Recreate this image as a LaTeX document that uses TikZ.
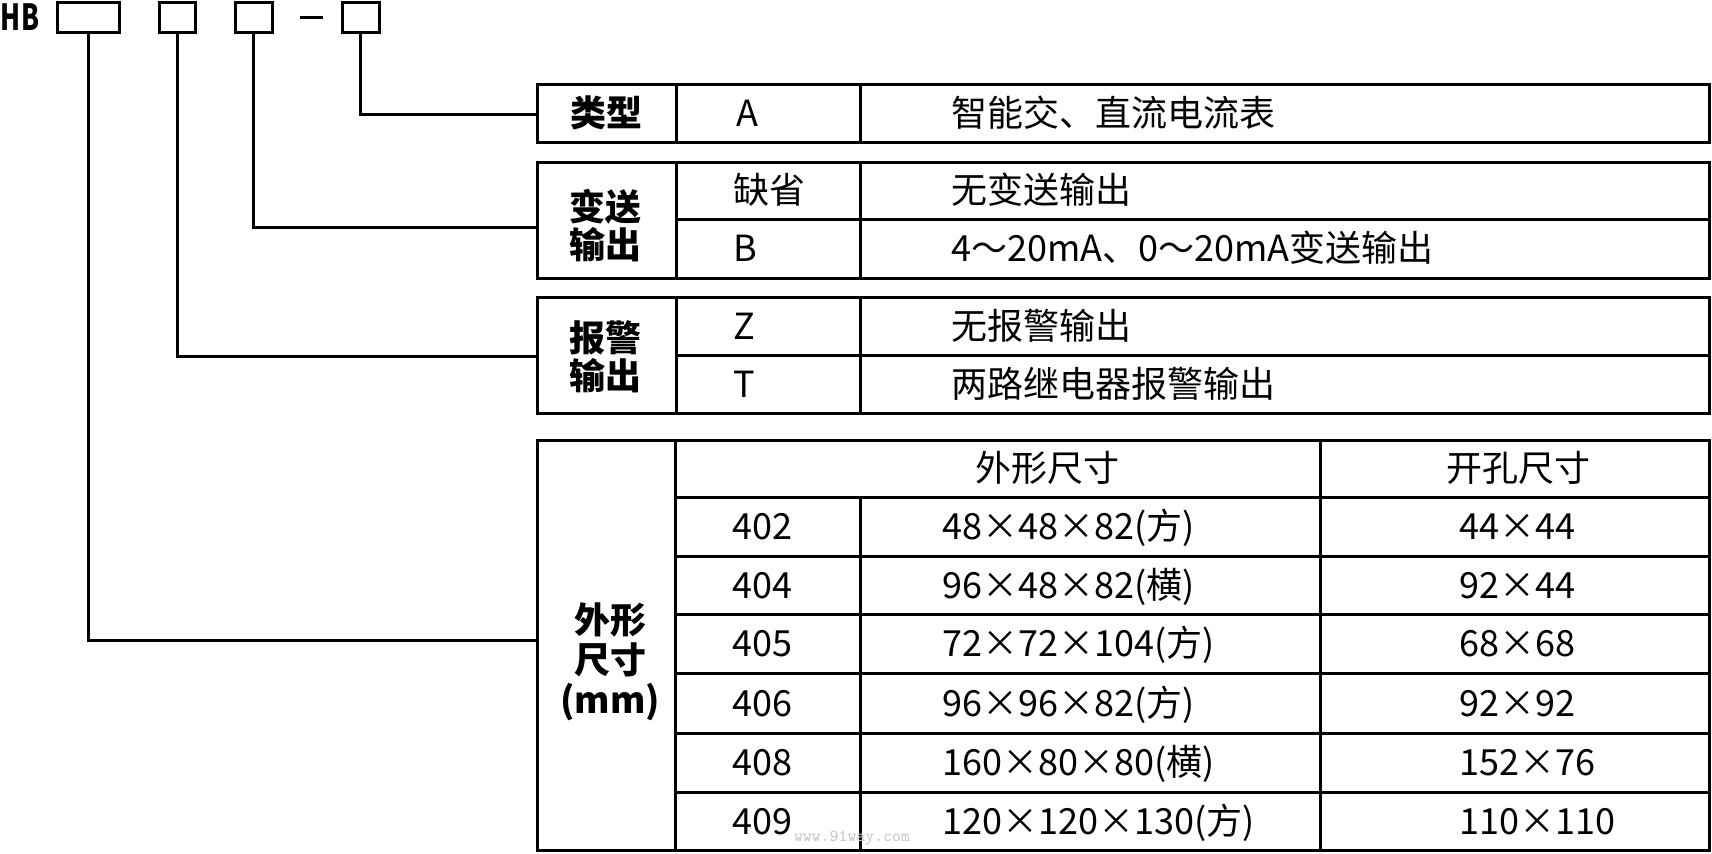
\documentclass[tikz,border=0pt]{standalone}
\usepackage{fontspec}
\setmainfont{Noto Sans CJK SC}

\begin{document}
\begin{tikzpicture}[x=0.5pt,y=-0.5pt,line width=1.5pt,
    codebox/.style={draw,inner sep=0pt,minimum height=15pt},
    txt/.style={anchor=west,inner sep=0pt,text height=16.4pt,text depth=3pt,font=\fontsize{18}{19}\selectfont},
    mid/.style={txt,anchor=center},
    lab/.style={align=center,inner sep=0pt,font=\fontsize{18}{19}\selectfont\bfseries}]
\useasboundingbox (0,0) rectangle (1712,853);
% model code
\node[font=\fontsize{18}{18}\selectfont\bfseries] (hb) at (20,17) {\scalebox{0.72}[1]{HB}};
\node[codebox,minimum width=31pt] (b1) at (88,17) {};
\node[codebox,minimum width=18pt] (b2) at (177,17) {};
\node[codebox,minimum width=18.5pt] (b3) at (253.5,17) {};
\draw (300,17) -- (323,17);
\node[codebox,minimum width=18.5pt] (b4) at (360.5,17) {};
% type
\draw (537,84) rectangle (1709,142);
\draw (676,84) -- (676,142) (860,84) -- (860,142);
\node[lab] (typ) at (606,113) {类型};
\node[txt] (typa) at (735,113) {A};
\node[txt] (typad) at (950,113) {智能交、直流电流表};
% transmit output
\draw (537,162) rectangle (1709,278);
\draw (676,162) -- (676,278) (860,162) -- (860,278) (676,219) -- (1709,219);
\node[lab] (out) at (605,226) {变送\\输出};
\node[txt] (out1) at (732,190.5) {缺省};
\node[txt] (out1d) at (950,190.5) {无变送输出};
\node[txt] (out2) at (732,248.5) {B};
\node[txt] (out2d) at (950,248.5) {4～20mA、0～20mA变送输出};
% alarm output
\draw (537,297) rectangle (1709,413);
\draw (676,297) -- (676,413) (860,297) -- (860,413) (676,355) -- (1709,355);
\node[lab] (alm) at (605,357) {报警\\输出};
\node[txt] (alm1) at (732,326) {Z};
\node[txt] (alm1d) at (950,326) {无报警输出};
\node[txt] (alm2) at (732,384) {T};
\node[txt] (alm2d) at (950,384) {两路继电器报警输出};
% dimensions
\draw (537,440) rectangle (1709,850);
\draw (675,440) -- (675,850) (1320,440) -- (1320,850) (860,497) -- (860,850);
\draw (675,497) -- (1709,497) (675,556) -- (1709,556) (675,614) -- (1709,614)
      (675,673) -- (1709,673) (675,733) -- (1709,733) (675,792) -- (1709,792);
\node[lab,font=\fontsize{18}{20}\selectfont\bfseries] (dim) at (610,662) {外形\\尺寸\\(mm)};
\node[mid] (dimh1) at (1047,468.5) {外形尺寸};
\node[mid] (dimh2) at (1518,468.5) {开孔尺寸};
\node[txt] (d1) at (731,526.5) {402};
\node[txt] (d1a) at (941,526.5) {48×48×82(方)};
\node[txt] (d1b) at (1458,526.5) {44×44};
\node[txt] (d2) at (731,585) {404};
\node[txt] (d2a) at (941,585) {96×48×82(横)};
\node[txt] (d2b) at (1458,585) {92×44};
\node[txt] (d3) at (731,643.5) {405};
\node[txt] (d3a) at (941,643.5) {72×72×104(方)};
\node[txt] (d3b) at (1458,643.5) {68×68};
\node[txt] (d4) at (731,703) {406};
\node[txt] (d4a) at (941,703) {96×96×82(方)};
\node[txt] (d4b) at (1458,703) {92×92};
\node[txt] (d5) at (731,762.5) {408};
\node[txt] (d5a) at (941,762.5) {160×80×80(横)};
\node[txt] (d5b) at (1458,762.5) {152×76};
\node[txt] (d6) at (731,821) {409};
\node[txt] (d6a) at (941,821) {120×120×130(方)};
\node[txt] (d6b) at (1458,821) {110×110};
\node[text=gray!45,font=\ttfamily\fontsize{8.5}{9}\selectfont] (wm) at (852,838) {www.91way.com};
% connectors
\coordinate (in1) at (537,114);
\coordinate (in2) at (537,227);
\coordinate (in3) at (537,356);
\coordinate (in4) at (537,640);
\draw (b4.south) |- (in1);
\draw (b3.south) |- (in2);
\draw (b2.south) |- (in3);
\draw (b1.south) |- (in4);
\end{tikzpicture}
\end{document}
